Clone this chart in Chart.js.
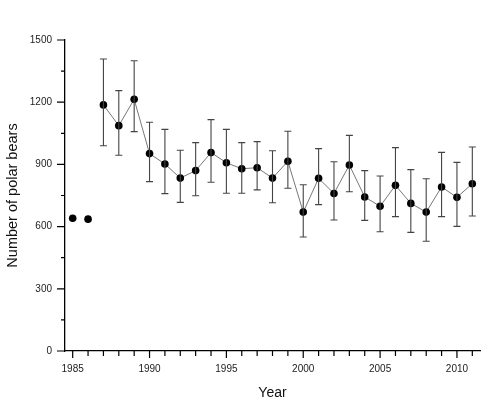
<!DOCTYPE html>
<html>
<head>
<meta charset="utf-8">
<script src="https://cdn.jsdelivr.net/npm/chart.js@4.4.1/dist/chart.umd.min.js"></script>
<style>
  html,body{margin:0;padding:0;background:#fff;}
  #wrap{width:500px;height:408px;}
</style>
</head>
<body>
<div id="wrap"><canvas id="c" width="500" height="408"></canvas></div>
<script>
// Data
const earlyYears = [1985, 1986];
const earlyValues = [640, 636];
const years = [1987,1988,1989,1990,1991,1992,1993,1994,1995,1996,1997,1998,1999,2000,2001,2002,2003,2004,2005,2006,2007,2008,2009,2010,2011];
const values = [1187,1087,1214,952,902,834,870,957,908,879,884,834,915,670,833,760,897,743,698,799,712,670,791,741,807];
const upper = [1408,1256,1400,1103,1069,968,1005,1116,1069,1005,1010,966,1060,802,976,913,1040,870,844,981,875,831,958,910,984];
const lower = [990,944,1058,817,759,717,749,814,761,761,777,715,785,550,706,632,768,630,575,648,572,529,648,601,651];
const yTicks = [0, 300, 600, 900, 1200, 1500];
const yMinorTicks = [150, 450, 750, 1050, 1350];
const xMajorTicks = [1985, 1990, 1995, 2000, 2005, 2010];

const errorBars = {
  id: 'errorBars',
  afterDatasetsDraw(chart) {
    const {ctx, scales: {x, y}} = chart;
    ctx.save();
    ctx.strokeStyle = '#444';
    ctx.lineWidth = 1.1;
    years.forEach((yr, i) => {
      const px = x.getPixelForValue(yr);
      const pt = y.getPixelForValue(upper[i]);
      const pb = y.getPixelForValue(lower[i]);
      ctx.beginPath();
      ctx.moveTo(px, pt); ctx.lineTo(px, pb);
      ctx.moveTo(px - 3.5, pt); ctx.lineTo(px + 3.5, pt);
      ctx.moveTo(px - 3.5, pb); ctx.lineTo(px + 3.5, pb);
      ctx.stroke();
    });
    ctx.restore();
  },
  afterDraw(chart) {
    const {ctx, scales: {x, y}} = chart;
    ctx.save();
    ctx.strokeStyle = '#000';
    ctx.lineWidth = 1.2;
    ctx.beginPath();
    const base = y.getPixelForValue(0);
    for (let yr = 1985; yr <= 2011; yr++) {
      const px = x.getPixelForValue(yr);
      const len = xMajorTicks.includes(yr) ? 7 : 5;
      ctx.moveTo(px, base); ctx.lineTo(px, base + len);
    }
    const left = x.getPixelForValue(x.min);
    yTicks.forEach(v => {
      const py = y.getPixelForValue(v);
      ctx.moveTo(left, py); ctx.lineTo(left - 8, py);
    });
    yMinorTicks.forEach(v => {
      const py = y.getPixelForValue(v);
      ctx.moveTo(left, py); ctx.lineTo(left - 4, py);
    });
    ctx.stroke();
    ctx.restore();
  }
};

new Chart(document.getElementById('c'), {
  type: 'line',
  data: {
    datasets: [
      {
        data: earlyYears.map((yr, i) => ({x: yr, y: earlyValues[i]})),
        showLine: false,
        pointRadius: 3.8,
        pointBackgroundColor: '#000',
        pointBorderColor: '#000',
        pointBorderWidth: 0,
        clip: false
      },
      {
        data: years.map((yr, i) => ({x: yr, y: values[i]})),
        borderColor: '#777',
        borderWidth: 1,
        tension: 0,
        pointRadius: 3.8,
        pointBackgroundColor: '#000',
        pointBorderColor: '#000',
        pointBorderWidth: 0,
        clip: false
      }
    ]
  },
  options: {
    responsive: false,
    animation: false,
    devicePixelRatio: 1,
    layout: {padding: {left: 0, top: 40, right: 20, bottom: 0}},
    plugins: {legend: {display: false}, tooltip: {enabled: false}},
    scales: {
      x: {
        type: 'linear',
        min: 1984.5,
        max: 2011.5,
        afterFit(s) { s.height = 57; },
        afterBuildTicks(s) { s.ticks = xMajorTicks.map(v => ({value: v})); },
        grid: {display: false, drawTicks: false},
        border: {display: true, color: '#000', width: 1.3},
        ticks: {
          padding: 12,
          color: '#222',
          font: {family: 'Liberation Sans', size: 10},
          maxRotation: 0,
          autoSkip: false,
          callback: v => String(v)
        },
        title: {
          display: true,
          text: 'Year',
          color: '#111',
          font: {family: 'Liberation Sans', size: 14},
          padding: {top: 0, bottom: 6}
        }
      },
      y: {
        min: 0,
        max: 1500,
        afterFit(s) { s.width = 65; },
        afterBuildTicks(s) { s.ticks = yTicks.map(v => ({value: v})); },
        grid: {display: false, drawTicks: false},
        border: {display: true, color: '#000', width: 1.3},
        ticks: {
          padding: 13,
          color: '#222',
          font: {family: 'Liberation Sans', size: 10},
          callback: v => String(v)
        },
        title: {
          display: true,
          text: 'Number of polar bears',
          color: '#111',
          font: {family: 'Liberation Sans', size: 14.5},
          padding: {top: 4, bottom: 0}
        }
      }
    }
  },
  plugins: [errorBars]
});
</script>
</body>
</html>
